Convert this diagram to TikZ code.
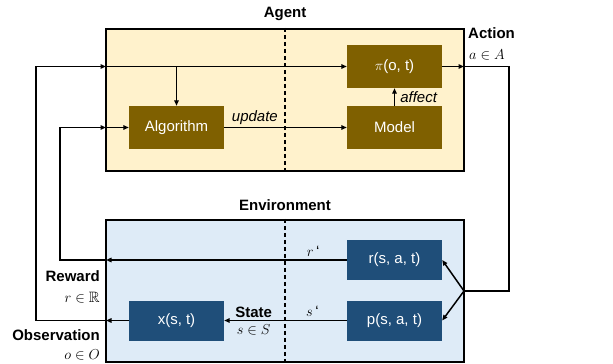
\documentclass[tikz,border=0pt]{standalone}
\usepackage{amsmath}
\usepackage{amssymb}
\usepackage{fontspec}
\setmainfont{Liberation Sans}
\usepackage{tikz}
\usetikzlibrary{arrows.meta}
\definecolor{agentfill}{RGB}{255,242,204}
\definecolor{envfill}{RGB}{222,235,247}
\definecolor{brownbox}{RGB}{127,96,0}
\definecolor{bluebox}{RGB}{31,78,121}
\tikzset{
    every node/.style={font=\fontsize{15}{18}\selectfont, inner sep=2pt}
}
\tikzset{
    frame/.style={draw, line width=2.5pt, minimum width=358pt,
    	minimum height=142pt},
    agentbox/.style={frame, fill=agentfill},
    envbox/.style={frame, fill=envfill},
    brownblock/.style={fill=brownbox, text=white, minimum width=95pt,
    	minimum height=43pt},
    blueblock/.style={fill=bluebox, text=white, minimum width=95pt,
    	minimum height=40pt},
    title/.style={font=\fontsize{15}{18}\selectfont\bfseries},
    lbl/.style={font=\fontsize{15}{18}\selectfont\itshape},
    arr/.style={line width=1.5pt, -{Triangle[length=5.5pt,width=4.5pt]}},
    wire/.style={line width=1.5pt},
    divider/.style={line width=1.3pt, dash pattern=on 4pt off 3pt}
}

\begin{document}
\begin{tikzpicture}[x=1pt, y=-1pt]
  \useasboundingbox (0, 0) rectangle (613, 364);
  % the two frames
  \node (agent) [agentbox] at (285, 100) {};
  \node (env) [envbox] at (285, 291) {};
  \draw[divider] (agent.north) -- (agent.south);
  \draw[divider] (env.north) -- (env.south);
  \node (agentttl) [title] at (285, 14) {Agent};
  \node (envttl) [title] at (285, 205) {Environment};

  % agent blocks
  \node (pi) [brownblock] at (394.5, 66.5) {$\pi$(o, t)};
  \node (model) [brownblock] at (394.5, 127.5) {Model};
  \node (algo) [brownblock] at (176.5, 127.5) {Algorithm};

  % environment blocks
  \node (rew) [blueblock] at (394.5, 260) {r(s, a, t)};
  \node (trans) [blueblock] at (394.5, 320.5) {p(s, a, t)};
  \node (obsv) [blueblock] at (176.5, 320.5) {x(s, t)};

  % outside labels
  \node (actttl) [title, anchor=west] at (466, 33) {Action};
  \node (actset) [anchor=west] at (467, 55) {$a \in A$};
  \node (rewttl) [title, anchor=east] at (102, 276) {Reward};
  \node (rewset) [anchor=east] at (102, 298) {$r \in \mathbb{R}$};
  \node (obsttl) [title, anchor=east] at (102, 335) {Observation};
  \node (obsset) [anchor=east] at (102, 355) {$o \in O$};

  % crossing points on the frames
  \coordinate (agin) at (106, 66.5);
  \coordinate (algin) at (106, 127.5);
  \coordinate (agout) at (464, 66.5);
  \coordinate (envrew) at (106, 260);
  \coordinate (envobs) at (106, 320.5);
  \coordinate (envin) at (464, 291);
  \coordinate (split) at (176.5, 66.5);

  % inside the agent
  \draw[arr] (agin) -- (pi);
  \draw[arr] (split) -- (algo);
  \draw[arr] (algin) -- (algo);
  \draw[arr] (algo) -- node[lbl, above, pos=0.25] {update} (model);
  \draw[arr] (model) -- node[lbl, right, xshift=3pt] {affect} (pi);
  \draw[arr] (pi) -- (agout);

  % inside the environment
  \draw[arr] (rew) -- node[above, pos=0.14, yshift=1pt] {$r$\,\textquoteleft} (envrew);
  \draw[arr] (trans) -- node[above, pos=0.28, yshift=1pt] {$s$\,\textquoteleft}
    node[title, above, pos=0.76, inner sep=0pt, yshift=2pt] {State}
    node[below, pos=0.76, inner sep=0pt, yshift=-3pt] {$s \in S$} (obsv);
  \draw[arr] (obsv) -- (envobs);
  \draw[arr] (envin) -- (rew.east);
  \draw[arr] (envin) -- (trans.east);

  % loops between the frames
  \draw[wire] (agout) -- (509, 66.5) -- (509, 291) -- (envin);
  \draw[arr] (envobs) -- (36, 320.5) -- (36, 66.5) -- (agin);
  \draw[arr] (envrew) -- (60, 260) -- (60, 127.5) -- (algin);
\end{tikzpicture}
\end{document}
